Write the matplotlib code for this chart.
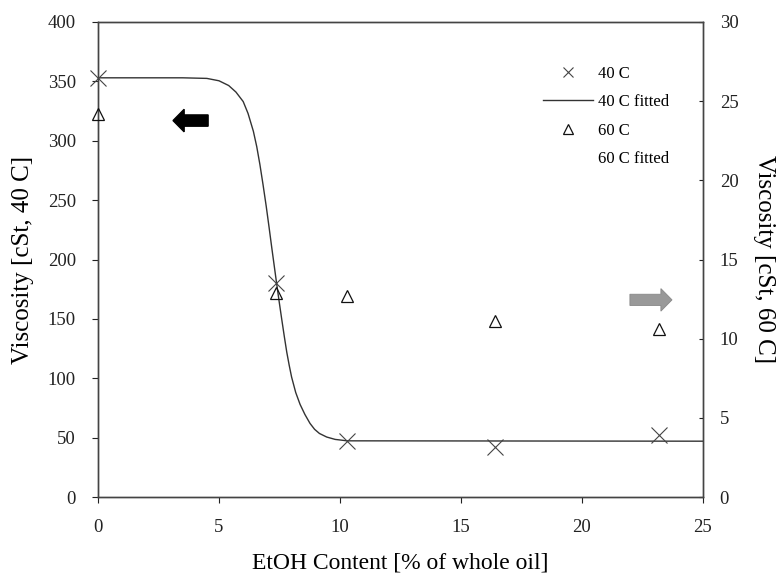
import matplotlib
matplotlib.use("Agg")
import matplotlib.pyplot as plt
from matplotlib.patches import FancyArrow
from matplotlib.lines import Line2D

plt.rcParams['font.family'] = ['Liberation Serif', 'DejaVu Serif']

# measured viscosities vs ethanol content
etoh = [0, 7.35, 10.3, 16.4, 23.2]
visc_40 = [353, 180, 47.5, 42, 52]
visc_60 = [24.2, 12.9, 12.7, 11.1, 10.6]

# fitted curve for 40 C
fit_x = [0, 3.5, 4.5, 5.0, 5.4, 5.7, 6.0, 6.2, 6.42, 6.56, 6.69, 6.82,
         6.95, 7.07, 7.18, 7.28, 7.38, 7.49, 7.59, 7.7, 7.8, 7.9, 8.0,
         8.17, 8.35, 8.55, 8.76, 8.95, 9.15, 9.45, 9.8, 10.3, 25]
fit_y = [353, 353, 352.5, 350.5, 346.5, 341, 333, 323, 308, 295, 280, 263,
         245, 227, 210, 195, 180, 164, 150, 135, 122, 111, 101,
         88, 78, 69.5, 62, 57, 53.5, 50.5, 48.5, 47.3, 47]

xticks = [0, 5, 10, 15, 20, 25]
left_ticks = [0, 50, 100, 150, 200, 250, 300, 350, 400]
right_ticks = [0, 5, 10, 15, 20, 25, 30]

fig = plt.figure(figsize=(7.77, 5.82), dpi=100)
ax = fig.add_axes([98 / 777, 1 - 497 / 582, 605 / 777, 475 / 582])
ax2 = ax.twinx()

ax.plot(fit_x, fit_y, color='#333333', lw=1.0, zorder=2)
ax.plot(etoh, visc_40, linestyle='none', marker='x', ms=11, mew=0.8,
        color='#444444', zorder=3, clip_on=False)
ax2.plot(etoh, visc_60, linestyle='none', marker='^', ms=9, mew=0.9,
         mfc='none', mec='#111111', zorder=3, clip_on=False)

ax.set_xlim(0, 25)
ax.set_ylim(0, 400)
ax2.set_ylim(0, 30)
ax.set_xticks(xticks)
ax.set_yticks(left_ticks)
ax2.set_yticks(right_ticks)

ax.tick_params(axis='both', direction='out', length=4, width=0.8,
               labelsize=13.5, pad=12, colors='#222222')
ax2.tick_params(axis='y', direction='in', length=3, width=0.8,
                labelsize=13.5, pad=12, colors='#222222')
for a in (ax, ax2):
    for s in a.spines.values():
        s.set_linewidth(1.0)
        s.set_color('#444444')

ax.set_xlabel('EtOH Content [% of whole oil]', fontsize=17, labelpad=12)
ax.set_ylabel('Viscosity [cSt, 40 C]', fontsize=18, labelpad=10)
ax2.set_ylabel('Viscosity [cSt, 60 C]', fontsize=18, rotation=270,
               labelpad=26)

# direction arrows pointing at the relevant axis
ax.add_patch(FancyArrow(4.55, 317, -1.45, 0, width=9.5, head_width=19,
                        head_length=0.46, length_includes_head=True,
                        color='black', zorder=4))
ax.add_patch(FancyArrow(21.98, 166, 1.74, 0, width=9.5, head_width=19,
                        head_length=0.46, length_includes_head=True,
                        facecolor='#999999', edgecolor='#888888', lw=0.6,
                        zorder=4))

handles = [
    Line2D([], [], linestyle='none', marker='x', ms=6.5, mew=0.8,
           color='#444444'),
    Line2D([], [], color='#333333', lw=1.0),
    Line2D([], [], linestyle='none', marker='^', ms=7, mew=0.9,
           mfc='none', mec='#111111'),
    Line2D([], [], color='white', lw=1.0),
]
labels = ['40 C', '40 C fitted', '60 C', '60 C fitted']
ax.legend(handles, labels, loc='upper right', bbox_to_anchor=(0.968, 0.94),
          frameon=False, fontsize=12, handlelength=3.0, labelspacing=0.75,
          handletextpad=0.25)

fig.savefig('out.png', dpi=100)
